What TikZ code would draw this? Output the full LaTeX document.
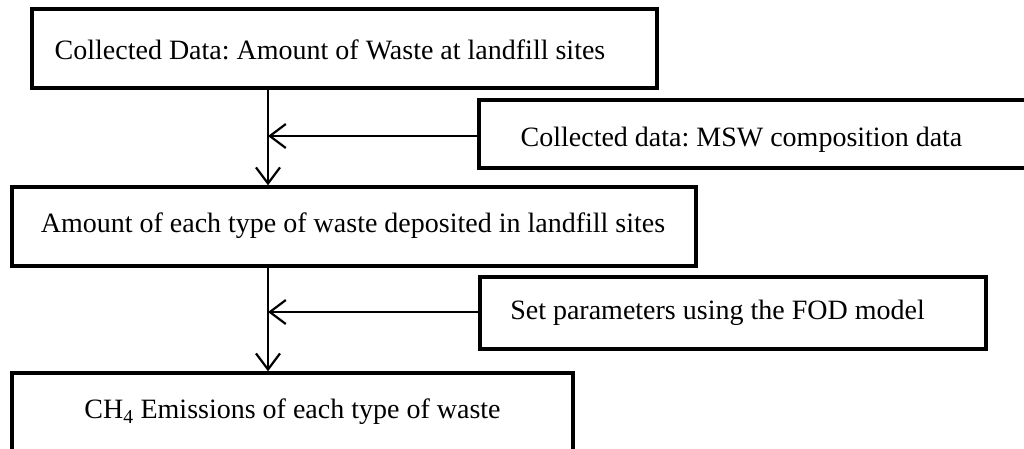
\documentclass[tikz,border=0pt]{standalone}
\usepackage{fontspec}
\setmainfont{Liberation Serif}
\usetikzlibrary{arrows.meta}
\begin{document}
\frenchspacing
\begin{tikzpicture}[x=1pt,y=-1pt,
  box/.style={draw=black, line width=3.5pt, rectangle, inner sep=0pt, fill=white},
  txt/.style={font=\fontsize{28}{33}\selectfont},
  flow/.style={line width=2.2pt, -{Straight Barb[length=16pt,width=24pt,line width=2.2pt]}}]
  \useasboundingbox (0,0) rectangle (1024,448);
  % boxes (centres and sizes in pixel units)
  \node[box, minimum width=625pt, minimum height=79pt,
        label={[txt,xshift=-14.5pt,yshift=-1.5pt]center:Collected Data: Amount of Waste at landfill sites}]
        (b1) at (344.5,48.5) {};
  \node[box, minimum width=580pt, minimum height=68pt,
        label={[txt,xshift=-27.5pt,yshift=-6pt]center:Collected data: MSW composition data}]
        (b2) at (769,134) {};
  \node[box, minimum width=684pt, minimum height=79pt,
        label={[txt,xshift=-1pt,yshift=1pt]center:Amount of each type of waste deposited in landfill sites}]
        (b3) at (354,226.5) {};
  \node[box, minimum width=506pt, minimum height=72pt,
        label={[txt,xshift=-15.5pt]center:Set parameters using the FOD model}]
        (b4) at (733,313) {};
  \node[box, minimum width=561pt, minimum height=100pt,
        label={[txt,yshift=11pt]center:CH\textsubscript{4} Emissions of each type of waste}]
        (b5) at (292.5,423) {};
  % connectors
  \coordinate (j1) at (268,136);
  \coordinate (j2) at (268,312);
  \draw[flow] (b1.south -| j1) -- (b3.north -| j1);
  \draw[flow] (b2.west |- j1) -- (j1);
  \draw[flow] (b3.south -| j2) -- (b5.north -| j2);
  \draw[flow] (b4.west |- j2) -- (j2);
\end{tikzpicture}
\end{document}
